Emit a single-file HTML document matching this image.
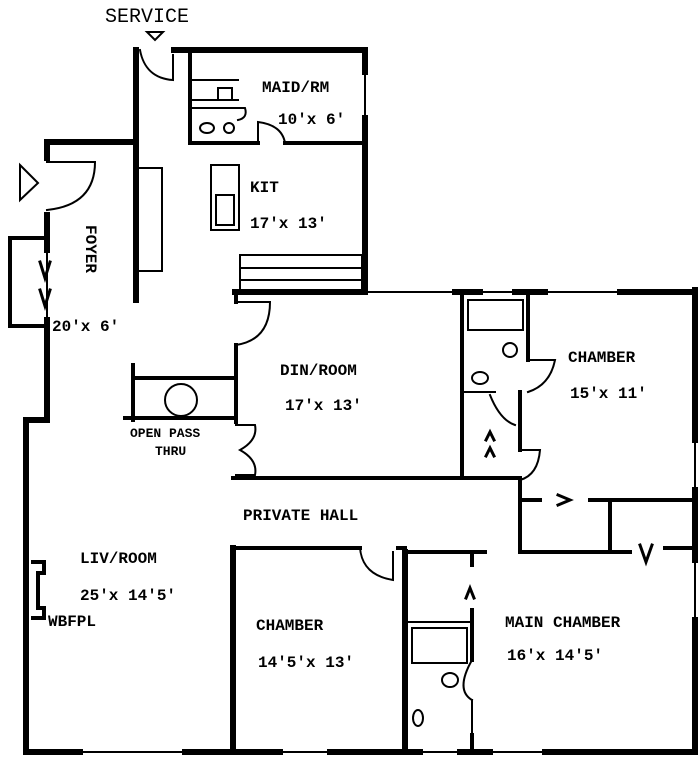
<!DOCTYPE html>
<html><head><style>
html,body{margin:0;padding:0;background:#fff;}
svg{display:block;}
text{font-family:"Liberation Mono",monospace;font-weight:bold;fill:#000;}
</style></head><body>
<svg width="700" height="760" viewBox="0 0 700 760" xmlns="http://www.w3.org/2000/svg">
<g stroke="#000" fill="none" stroke-linecap="square">
<g stroke-width="6">
<path d="M136 50 V300"/>
<path d="M174 50 H365 V72"/>
<path d="M365 118 V292"/>
<path d="M47 142 H136"/>
<path d="M47 142 V158"/>
<path d="M47 215 V250"/>
<path d="M47 320 V420 H26 V752"/>
<path d="M26 752 H80"/>
<path d="M185 752 H280"/>
<path d="M330 752 H420"/>
<path d="M460 752 H490"/>
<path d="M545 752 H695"/>
<path d="M695 290 V440"/>
<path d="M695 490 V560"/>
<path d="M695 620 V752"/>
<path d="M235 292 H365"/>
<path d="M455 292 H480"/>
<path d="M515 292 H545"/>
<path d="M620 292 H695"/>
<path d="M233 548 V752"/>
<path d="M405 552 V752"/>
</g>
<g stroke-width="4">
<path d="M190 55 V143 H258"/>
<path d="M285 143 H362"/>
<path d="M236 292 V302"/>
<path d="M236 345 V422"/>
<path d="M233 478 H520"/>
<path d="M233 548 H360"/>
<path d="M398 548 H405"/>
<path d="M405 552 H485"/>
<path d="M520 552 H630"/>
<path d="M665 548 H695"/>
<path d="M462 292 V478"/>
<path d="M528 292 V360"/>
<path d="M520 392 V450"/>
<path d="M520 480 V552"/>
<path d="M520 500 H540"/>
<path d="M590 500 H695"/>
<path d="M610 500 V552"/>
<path d="M472 552 V565"/>
<path d="M472 610 V660"/>
<path d="M472 735 V752"/>
<path d="M133 365 V420"/>
<path d="M133 378 H233"/>
<path d="M125 418 H233"/>
<path d="M10 238 H47"/>
<path d="M10 238 V326 H47"/>
<path d="M33 562 H44 V573 H38 V608 H44 V618 H33"/>
</g>
<g stroke-width="2">
<path d="M80 752 H185 M280 752 H330 M420 752 H460 M490 752 H545"/>
<path d="M365 72 V118" stroke-dasharray="3 2"/>
<path d="M365 292 H455 M480 292 H515 M545 292 H620" />
<path d="M695 440 V490 M695 560 V620" stroke-dasharray="3 2"/>
<path d="M47 250 V320"/>
<path d="M140 50 Q145 78 173 80 V55"/>
<path d="M47 162 H95 Q95 205 47 210"/>
<path d="M258 143 V122 Q282 125 285 143"/>
<path d="M236 302 H270 Q270 340 236 345"/>
<path d="M236 425 H255 Q258 440 240 450 Q258 460 255 475 H236"/>
<path d="M360 548 Q362 575 393 580 V552"/>
<path d="M528 360 H555 Q550 385 528 392"/>
<path d="M520 450 H540 Q538 475 520 480"/>
<path d="M472 660 Q455 690 472 700"/>
<path d="M472 700 V735"/>
<rect x="137" y="168" width="25" height="103"/>
<rect x="211" y="165" width="28" height="65"/>
<rect x="216" y="195" width="18" height="30"/>
<rect x="240" y="255" width="122" height="35"/>
<path d="M240 268 H362 M240 280 H362"/>
<path d="M192 80 H238 M192 100 H238 M218 88 H232 V100 H218 Z"/>
<path d="M190 108 H245 Q248 118 238 120"/>
<circle cx="229" cy="128" r="5"/>
<ellipse cx="207" cy="128" rx="7" ry="5"/>
<circle cx="181" cy="400" r="16"/>
<rect x="468" y="300" width="55" height="30"/>
<circle cx="510" cy="350" r="7"/>
<ellipse cx="480" cy="378" rx="8" ry="6"/>
<path d="M465 392 H495"/>
<path d="M490 395 Q500 420 515 425"/>
<rect x="412" y="628" width="55" height="35"/>
<ellipse cx="450" cy="680" rx="8" ry="7"/>
<ellipse cx="418" cy="718" rx="5" ry="8"/>
<path d="M408 622 H470"/>
<path d="M20 165 L38 183 L20 200 Z"/>
<path d="M147 32 L163 32 L155 40 Z"/>
</g>
<g stroke-width="3">
<path d="M558 495 L570 500 L558 505"/>
<path d="M640 545 L646 562 L652 545"/>
<path d="M40 262 L45 278 L50 262"/>
<path d="M40 290 L45 306 L50 290"/>
<path d="M486 440 L490 432 L494 440 M486 456 L490 448 L494 456"/>
<path d="M466 598 L470 588 L474 598"/>
</g>
</g>
<text x="105" y="22" font-size="20" style="font-weight:normal">SERVICE</text>
<g font-size="16">
<text x="262" y="92">MAID/RM</text>
<text x="278" y="124">10′x 6′</text>
<text x="250" y="192">KIT</text>
<text x="250" y="228">17′x 13′</text>
<text x="280" y="375">DIN/ROOM</text>
<text x="285" y="410">17′x 13′</text>
<text x="568" y="362">CHAMBER</text>
<text x="570" y="398">15′x 11′</text>
<text x="243" y="520">PRIVATE HALL</text>
<text x="80" y="563">LIV/ROOM</text>
<text x="80" y="600">25′x 14′5′</text>
<text x="48" y="626">WBFPL</text>
<text x="256" y="630">CHAMBER</text>
<text x="258" y="667">14′5′x 13′</text>
<text x="505" y="627">MAIN CHAMBER</text>
<text x="507" y="660">16′x 14′5′</text>
<text x="52" y="331">20′x 6′</text>
</g>
<g font-size="13">
<text x="130" y="437">OPEN PASS</text>
<text x="155" y="455">THRU</text>
</g>
<text x="86" y="225" font-size="16" transform="rotate(90 86 225)">FOYER</text>
</svg>
</body></html>
